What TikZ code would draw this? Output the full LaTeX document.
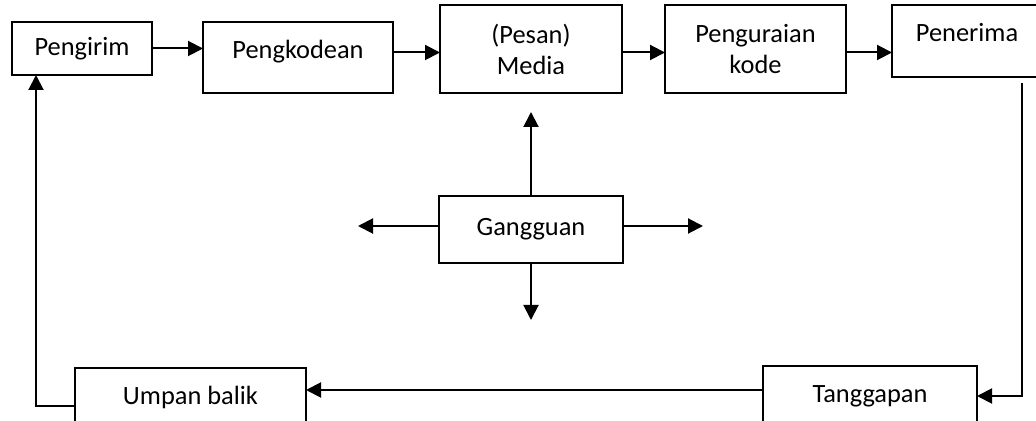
\documentclass[tikz,border=0pt]{standalone}
\usepackage{fontspec}
\setmainfont{Carlito}
\usetikzlibrary{arrows.meta}

\begin{document}
\begin{tikzpicture}[x=0.5pt, y=-0.5pt, font=\fontsize{13.2}{15.5}\selectfont, line width=1pt,
    box/.style={draw, fill=white, inner sep=0pt, align=center, outer sep=0pt},
    arr/.style={-{Triangle[length=7.5pt, width=7.5pt]}, line width=1pt}]
        \useasboundingbox (0, 0) rectangle (1036, 421);
        \clip (0, 0) rectangle (1036, 421);

        \node[box, minimum width=70pt, minimum height=26.5pt] (send) at (82, 48.5) {Pengirim};
        \node[box, minimum width=95pt, text height=18.1pt, text depth=17.4pt] (enc) at (298, 57.5) {Pengkodean};
        \node[box, minimum width=91pt, minimum height=44pt] (media) at (531, 49) {(Pesan)\\Media};
        \node[box, minimum width=90.5pt, minimum height=44pt] (dec) at (755.5, 49) {Penguraian\\kode};
        \node[box, minimum width=75pt, text height=18.2pt, text depth=17.8pt] (recv) at (967, 41) {Penerima};

        \node[box, minimum width=92pt, minimum height=33.5pt] (noise) at (531, 229.5) {Gangguan};

        \node[box, minimum width=115.5pt, minimum height=29pt] (fb) at (190.5, 397) {Umpan balik};
        \node[box, minimum width=107pt, minimum height=30pt] (resp) at (870, 396) {Tanggapan};

        \coordinate (noiseU) at (531, 112);
        \coordinate (noiseD) at (531, 320);
        \coordinate (noiseL) at (358, 226);
        \coordinate (noiseR) at (703, 226);
        \coordinate (recvdown) at (1022, 83);
        \coordinate (fbturn) at (36, 406);
        \coordinate (toprow) at (0, 52.5);
        \coordinate (botrow) at (0, 390);

        % top row
        \draw[arr] (send.east) -- (send.east -| enc.west);
        \draw[arr] (enc.east |- toprow) -- (media.west |- toprow);
        \draw[arr] (media.east |- toprow) -- (dec.west |- toprow);
        \draw[arr] (dec.east |- toprow) -- (recv.west |- toprow);

        % noise
        \draw[arr] (noise.north) -- (noiseU);
        \draw[arr] (noise.south) -- (noiseD);
        \draw[arr] (noise.west |- noiseL) -- (noiseL);
        \draw[arr] (noise.east |- noiseR) -- (noiseR);

        % feedback loop
        \draw[arr] (recvdown) |- (resp.east);
        \draw[arr] (resp.west |- botrow) -- (fb.east |- botrow);
        \draw[arr] (fb.west |- fbturn) -- (fbturn) -- (fbturn |- send.south);
    \end{tikzpicture}
\end{document}
